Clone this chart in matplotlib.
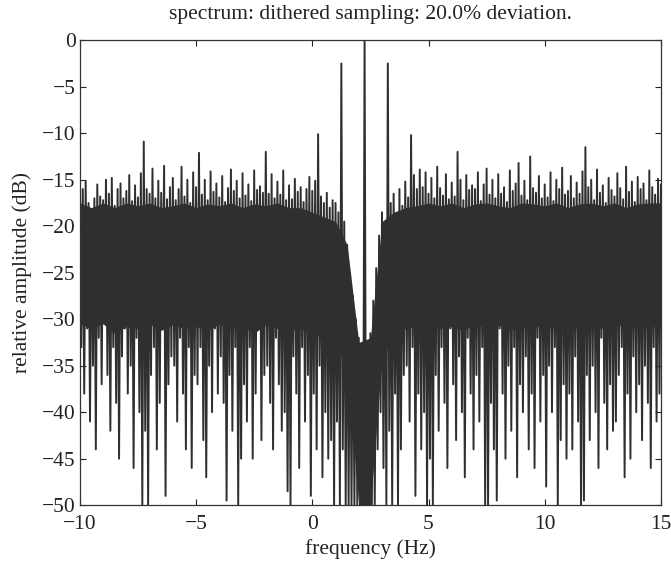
import numpy as np
import matplotlib
matplotlib.use("Agg")
import matplotlib.pyplot as plt

plt.rcParams['font.family'] = ['Liberation Serif', 'DejaVu Serif']

# frequency bins (Hz): one spike-top and one trough per 0.125 Hz bin
freq_start = -10.0
freq_stop = 15.0
bin_width = 0.125

# spike tops (dB), rows of 8 bins = 1 Hz, from -10 Hz upward
peak_db = [
    -14.5, -16.0, -15.2, -17.5, -18.2, -17.0, -15.5, -16.8,   # -10
    -17.2, -15.0, -16.5, -14.8, -17.8, -16.0, -15.4, -17.0,   # -9
    -16.2, -14.5, -17.3, -15.6, -16.9, -14.3, -10.9, -16.0,   # -8
    -16.5, -13.8, -17.0, -15.1, -16.4, -13.5, -17.1, -15.8,   # -7
    -14.8, -17.2, -16.0, -13.6, -16.8, -15.0, -17.5, -14.2,   # -6
    -15.8, -12.1, -16.6, -15.0, -17.2, -14.1, -16.3, -15.4,   # -5
    -16.9, -14.6, -17.4, -15.9, -13.9, -16.2, -15.1, -17.0,   # -4
    -14.3, -16.7, -15.5, -17.3, -14.0, -16.1, -15.7, -16.4,   # -3
    -12.0, -16.5, -14.4, -17.0, -15.2, -16.6, -14.0, -17.2,   # -2
    -15.6, -17.1, -14.9, -16.3, -15.8, -17.4, -16.0, -14.7,   # -1
    -16.2, -15.1, -10.1, -16.8, -17.5, -16.4, -18.0, -17.2,   # 0
    -17.5, -18.5, -2.5, -19.5, -22.0, -25.0, -27.5, -30.0,    # 1
    -32.0, -33.0, 0.0, -33.0, -31.5, -28.0, -24.5, -21.0,     # 2
    -18.5, -19.5, -2.5, -17.5, -16.5, -19.0, -16.0, -17.8,    # 3
    -15.2, -16.9, -10.2, -14.5, -16.0, -13.9, -15.8, -14.2,   # 4
    -16.5, -14.8, -17.0, -13.6, -15.9, -16.7, -14.4, -17.1,   # 5
    -15.3, -16.8, -12.0, -15.0, -17.2, -14.5, -16.1, -15.6,   # 6
    -16.0, -14.2, -17.3, -15.5, -13.8, -16.6, -15.0, -17.0,   # 7
    -14.4, -16.5, -15.8, -17.4, -14.0, -16.2, -15.4, -13.2,   # 8
    -16.7, -15.1, -17.2, -12.5, -15.9, -16.4, -14.6, -17.0,   # 9
    -15.5, -16.9, -14.2, -17.3, -15.0, -16.0, -13.7, -16.6,   # 10
    -16.2, -14.6, -17.0, -15.3, -16.5, -14.1, -11.5, -15.8,   # 11
    -15.0, -17.2, -13.9, -16.4, -15.6, -17.5, -14.8, -16.1,   # 12
    -16.8, -14.3, -15.9, -17.1, -13.6, -16.3, -15.2, -17.4,   # 13
    -14.7, -16.0, -15.4, -17.2, -14.0, -15.8, -16.6, -14.9,   # 14
    -15.5,                                                    # 15
]

# troughs (dB), half a bin after each spike top
trough_db = [
    -33, -38, -31, -41, -35, -44, -32, -37,      # -10
    -30, -36, -42, -33, -39, -45, -34, -31,      # -9
    -38, -35, -46, -32, -40, -50, -42, -50,      # -8
    -36, -33, -44, -39, -31, -49, -37, -34,      # -7
    -35, -41, -32, -38, -44, -33, -46, -36,      # -6
    -37, -33, -43, -47, -35, -40, -31, -38,      # -5
    -34, -39, -49.5, -36, -42, -33, -50, -45,    # -4
    -37, -41, -33, -45, -38, -31, -43, -36,      # -3
    -35, -39, -44, -32, -37, -42, -40, -48.5,    # -2
    -50, -34, -38, -46, -33, -41, -36, -49,      # -1
    -38, -44, -35, -47, -40, -45, -43, -50,      # 0
    -41, -50, -44, -50, -50, -50, -50, -50,      # 1
    -50, -50, -50, -50, -50, -50, -44, -40,      # 2
    -46, -50, -42, -50, -38, -50, -44, -36,      # 3
    -35, -41, -33, -49, -38, -44, -40, -50,      # 4
    -45, -50, -36, -42, -33, -39, -46, -31,      # 5
    -37, -43, -34, -40, -47, -32, -38, -44,      # 6
    -36, -41, -33, -50, -50, -39, -44, -49.5,    # 7
    -31, -38, -45, -35, -42, -33, -47, -37,      # 8
    -40, -34, -44, -38, -46, -32, -41, -36,      # 9
    -48, -35, -40, -33, -50, -43, -37, -45,      # 10
    -38, -44, -34, -41, -50, -49.5, -36, -43,    # 11
    -35, -40, -46, -32, -39, -44, -37, -42,      # 12
    -41, -36, -33, -47, -38, -45, -34, -40,      # 13
    -37, -43, -35, -39, -46, -33, -41, -38,      # 14
    -36,                                         # 15
]

# dense noise-floor band (dB), every 0.5 Hz from -10 to 15 Hz
band_step = 0.5
band_top_db = [
    -17.5, -18.0, -17.5, -18.0, -17.5, -17.8, -17.5, -18.0, -17.8, -17.5,   # -10 .. -5.5
    -18.0, -17.6, -17.8, -17.5, -18.0, -17.6, -17.8, -17.5, -18.0, -18.0,   # -5 .. -0.5
    -18.5, -19.0, -19.5, -22.0, -32.5, -32.0, -19.5, -18.5, -18.0, -17.8,   # 0 .. 4.5
    -17.5, -17.8, -17.5, -18.0, -17.6, -17.5, -17.8, -18.0, -17.5, -17.6,   # 5 .. 9.5
    -17.8, -17.5, -18.0, -17.6, -17.5, -17.8, -17.5, -18.0, -17.6, -17.5,   # 10 .. 14.5
    -17.5,                                                                  # 15
]
band_bottom_db = [
    -30.5, -31.0, -30.5, -31.5, -30.8, -31.0, -30.5, -31.2, -30.6, -31.0,
    -30.8, -31.2, -30.5, -31.0, -30.8, -31.5, -30.6, -31.0, -31.2, -31.0,
    -31.5, -32.0, -33.0, -35.0, -50.0, -50.0, -34.0, -32.0, -31.0, -30.8,
    -30.5, -31.0, -30.8, -31.2, -30.5, -31.0, -30.6, -31.2, -30.8, -31.0,
    -30.5, -31.2, -30.8, -31.0, -30.6, -31.0, -30.8, -30.5, -31.0, -30.8,
    -30.8,
]

x_ticks = [-10, -5, 0, 5, 10, 15]
y_ticks = [0, -5, -10, -15, -20, -25, -30, -35, -40, -45, -50]

title = "spectrum: dithered sampling: 20.0% deviation."
xlabel = "frequency (Hz)"
ylabel = "relative amplitude (dB)"

# interleave spike tops and troughs into one trace
n = len(peak_db)
f_peak = freq_start + bin_width * np.arange(n)
f_trough = f_peak + bin_width / 2
freq = np.empty(2 * n)
amp = np.empty(2 * n)
freq[0::2] = f_peak
freq[1::2] = f_trough
amp[0::2] = peak_db
amp[1::2] = trough_db

band_freq = freq_start + band_step * np.arange(len(band_top_db))

ink = '#2f2f2f'
fig = plt.figure(figsize=(6.71, 5.67), dpi=100)
ax = fig.add_axes([0.119, 0.109, 0.866, 0.820])
ax.fill_between(band_freq, band_bottom_db, band_top_db, color=ink, lw=0)
ax.plot(freq, amp, color=ink, lw=1.4)

ax.set_xlim(freq_start, freq_stop)
ax.set_ylim(-50, 0)
ax.set_xticks(x_ticks)
ax.set_yticks(y_ticks)
ax.set_xticklabels([("\u2212" + str(-t)) if t < 0 else str(t) for t in x_ticks])
ax.set_yticklabels([("\u2212" + str(-t)) if t < 0 else str(t) for t in y_ticks])
ax.tick_params(direction='in', top=True, right=True, length=4, width=0.8,
               labelsize=15.5, colors='#222222')
ax.tick_params(axis='x', pad=7)
ax.tick_params(axis='y', pad=3)
for s in ax.spines.values():
    s.set_linewidth(0.9)
    s.set_color('#333333')

ax.set_title(title, fontsize=15.5, pad=15, color='#222222')
ax.set_xlabel(xlabel, fontsize=15.5, labelpad=4, color='#222222')
ax.set_ylabel(ylabel, fontsize=15.5, labelpad=7, color='#222222')

fig.savefig("out.png", dpi=100)
